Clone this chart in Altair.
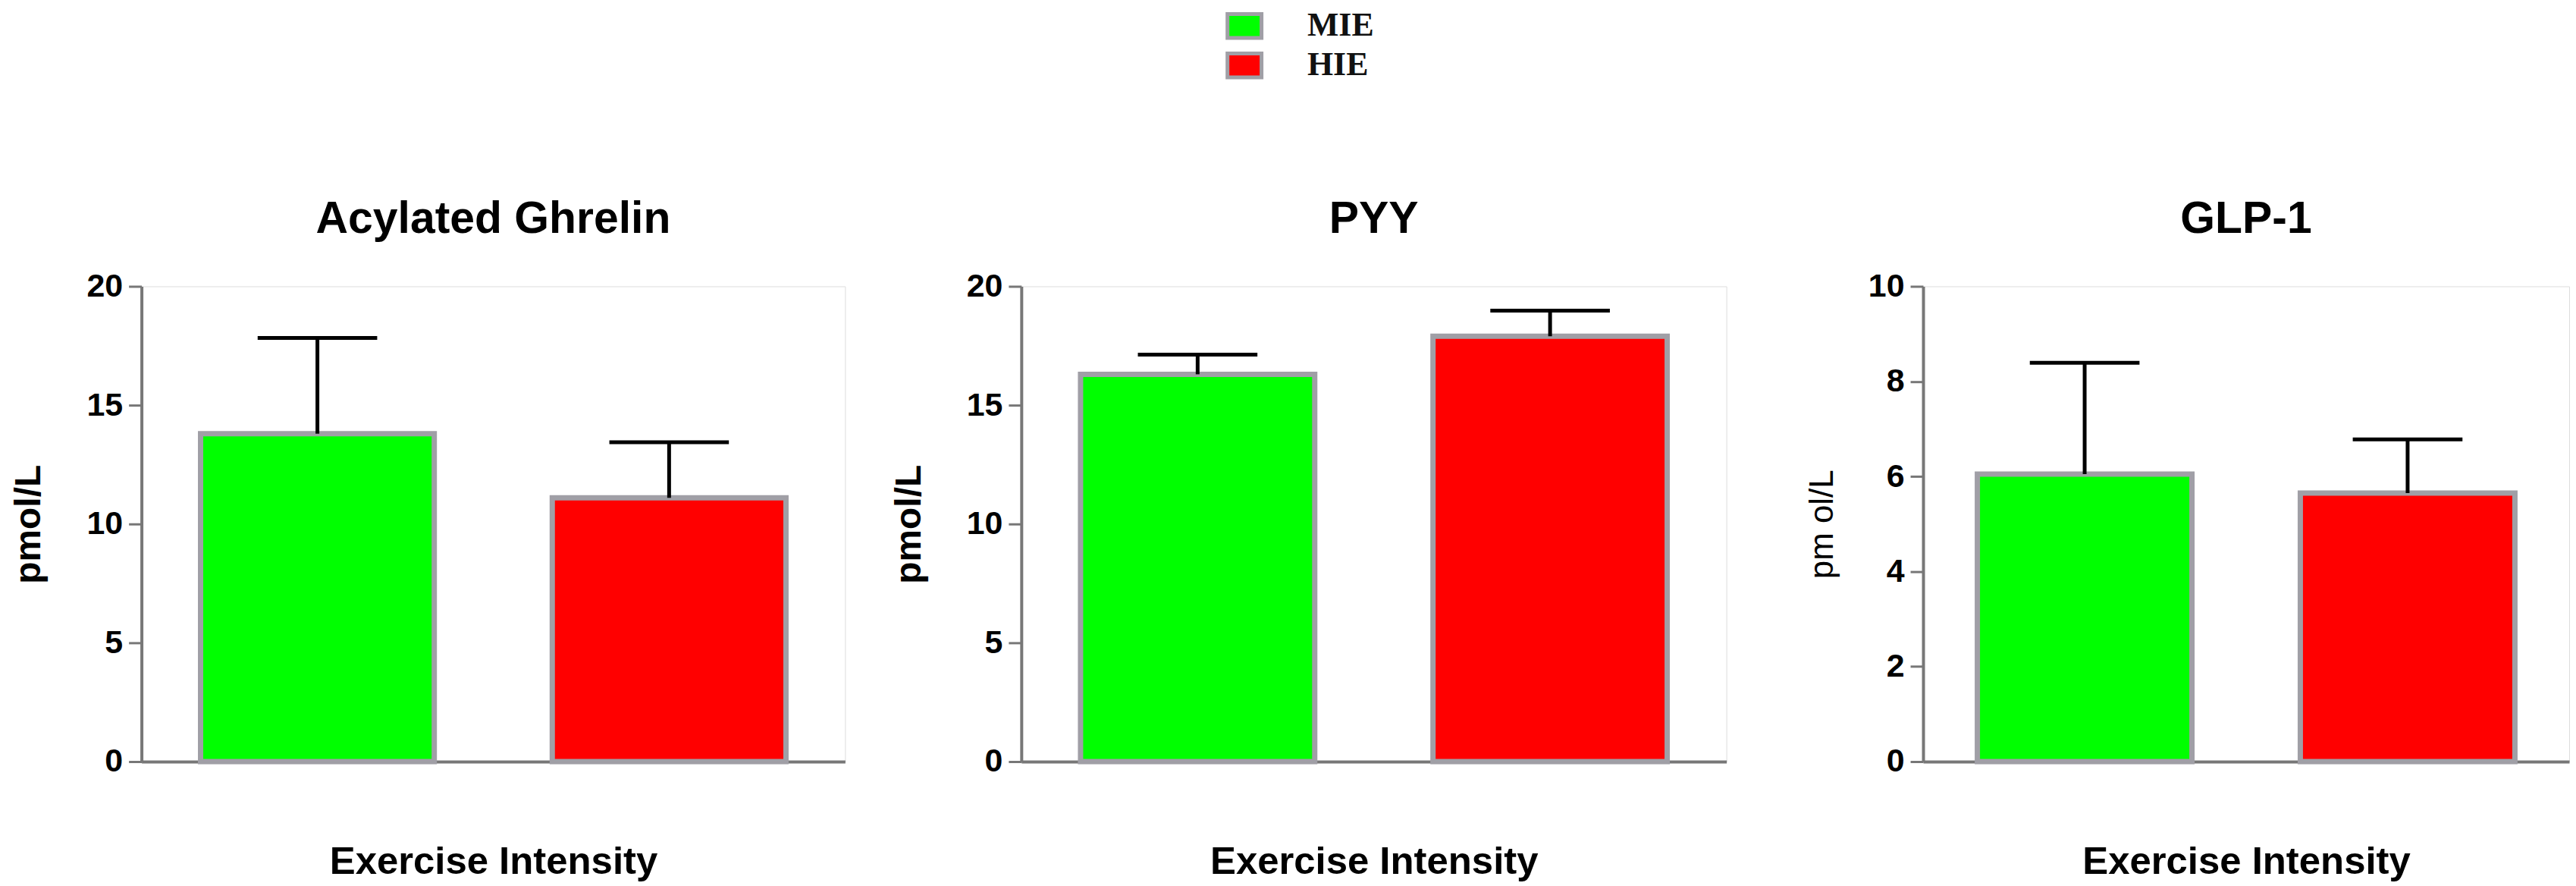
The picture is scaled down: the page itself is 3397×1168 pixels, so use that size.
import altair as alt
import pandas as pd

# ---- data ----
groups = ["MIE", "HIE"]
colors = ["#00ff00", "#ff0000"]
panel_titles = ["Acylated Ghrelin", "PYY", "GLP-1"]
y_titles = ["pmol/L", "pmol/L", "pm ol/L"]
x_title = "Exercise Intensity"

ghrelin_mean = [13.8, 11.1]
ghrelin_upper = [17.83, 13.44]
pyy_mean = [16.3, 17.9]
pyy_upper = [17.13, 18.98]
glp1_mean = [6.05, 5.65]
glp1_upper = [8.39, 6.78]

y_max = [20, 20, 10]
y_ticks = [[0, 5, 10, 15, 20], [0, 5, 10, 15, 20], [0, 2, 4, 6, 8, 10]]

SANS = "Liberation Sans"
GRAY = "#777777"
BAR_STROKE = "#a09fa6"
H = 628


def panel(title, ytitle, mean, upper, ymax, ticks, width, cap,
          yt_weight, yt_size, yt_pad, legend):
    df = pd.DataFrame({"group": groups, "mean": mean, "upper": upper})
    xaxis = alt.Axis(labels=False, ticks=False, title=x_title,
                     titlePadding=148, titleBaseline="alphabetic",
                     minExtent=0, maxExtent=0,
                     domainColor=GRAY, domainWidth=4,
                     titleFont=SANS, titleFontSize=51, titleFontWeight="bold",
                     titleColor="black")
    x = alt.X("group:N", sort=groups,
              scale=alt.Scale(paddingInner=0.3355, paddingOuter=0.168),
              axis=xaxis)
    yscale = alt.Scale(domain=[0, ymax], nice=False)
    yaxis = alt.Axis(values=ticks, title=ytitle, grid=False,
                     tickSize=17, tickWidth=3, tickColor=GRAY,
                     domainColor=GRAY, domainWidth=4,
                     labelPadding=8, labelFont=SANS, labelFontSize=43,
                     labelFontWeight="bold", labelColor="black",
                     minExtent=73, maxExtent=73,
                     titleFont=SANS, titleFontSize=yt_size,
                     titleFontWeight=yt_weight, titleColor="black",
                     titlePadding=yt_pad)
    if legend:
        leg = alt.Legend(title=None, orient="none", legendX=1433, legendY=-369,
                         symbolType="M-1,-0.7H1V0.7H-1Z", symbolSize=2025,
                         symbolStrokeColor=BAR_STROKE, symbolStrokeWidth=5,
                         symbolOpacity=1,
                         labelFont="Liberation Serif", labelFontSize=44,
                         labelFontWeight="bold", labelColor="#111111",
                         labelOffset=58, rowPadding=0, padding=0)
    else:
        leg = None
    color = alt.Color("group:N", scale=alt.Scale(domain=groups, range=colors),
                      legend=leg)
    base = alt.Chart(df)
    bars = base.mark_bar(stroke=BAR_STROKE, strokeWidth=7, opacity=1).encode(
        x=x, y=alt.Y("mean:Q", scale=yscale, axis=yaxis), color=color)
    rule = base.mark_rule(color="black", strokeWidth=5).encode(
        x=x, y=alt.Y("mean:Q", scale=yscale, axis=yaxis), y2="upper:Q")
    capm = base.mark_tick(color="black", thickness=5, size=cap, opacity=1).encode(
        x=x, y=alt.Y("upper:Q", scale=yscale, axis=yaxis))
    return alt.layer(bars, rule, capm).properties(
        width=width, height=H,
        title=alt.TitleParams(title, font=SANS, fontSize=59, fontWeight="bold",
                              color="black", anchor="middle", offset=-9,
                              baseline="alphabetic", frame="group"))


p1 = panel(panel_titles[0], y_titles[0], ghrelin_mean, ghrelin_upper, y_max[0],
           y_ticks[0], 930, 158, "bold", 48, 51, True)
p2 = panel(panel_titles[1], y_titles[1], pyy_mean, pyy_upper, y_max[1],
           y_ticks[1], 932, 158, "bold", 48, 51, False)
p3 = panel(panel_titles[2], y_titles[2], glp1_mean, glp1_upper, y_max[2],
           y_ticks[2], 854, 145, "normal", 44, 38, False)

inner = alt.hconcat(p1, p2, spacing=59).resolve_scale(color="shared")
chart = alt.hconcat(inner, p3, spacing=103).resolve_scale(color="shared").properties(
    padding={"left": 6, "top": 0, "right": 0, "bottom": 0}
).configure_view(stroke=GRAY, strokeWidth=4).configure(background="white")

chart.save("out.html", embed_options={"renderer": "svg", "actions": False})
